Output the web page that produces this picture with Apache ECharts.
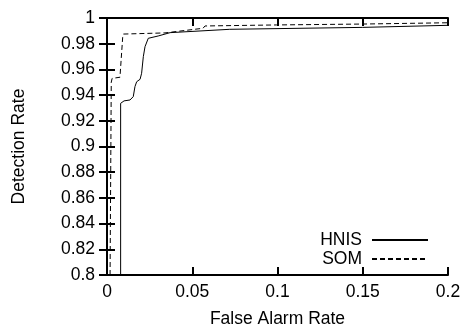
<!DOCTYPE html>
<html>
<head>
<meta charset="utf-8">
<script src="https://cdn.jsdelivr.net/npm/echarts@6/dist/echarts.min.js"></script>
<style>
  html, body { margin: 0; padding: 0; background: #fff; }
  #chart { width: 465px; height: 329px; }
</style>
</head>
<body>
<div id="chart"></div>
<script>
// HNIS curve (solid)
var hnisX = [0.0080, 0.0080, 0.0100, 0.0135, 0.0154, 0.0164, 0.0174, 0.0194, 0.0203, 0.0213, 0.0223, 0.0242, 0.0300, 0.0370, 0.0720, 0.1500, 0.2000];
var hnisY = [0.8000, 0.9336, 0.9355, 0.9362, 0.9388, 0.9466, 0.9504, 0.9523, 0.9570, 0.9699, 0.9777, 0.9842, 0.9860, 0.9886, 0.9912, 0.9927, 0.9943];
// SOM curve (dashed)
var somX = [0.0018, 0.0025, 0.0030, 0.0076, 0.0085, 0.0092, 0.0096, 0.0340, 0.0563, 0.0575, 0.0995, 0.1000, 0.1500, 0.1510, 0.2000];
var somY = [0.8000, 0.9500, 0.9530, 0.9539, 0.9540, 0.9850, 0.9875, 0.9884, 0.9920, 0.9938, 0.9946, 0.9953, 0.9953, 0.9963, 0.9963];

var xTicks = { min: 0, max: 0.2, interval: 0.05 };
var yTicks = { min: 0.8, max: 1, interval: 0.02 };

function pairs(xs, ys) {
    return xs.map(function (x, i) { return [x, ys[i]]; });
}

var font = 'Liberation Sans';
var fsize = 17.5;
var frame = { show: true, lineStyle: { color: '#000', width: 2 } };
var ticks = { show: true, inside: true, length: 8, lineStyle: { color: '#000', width: 2 } };
var fmt = function (v) { return String(+v.toFixed(3)); };

// one legend box per entry, so the rows can sit closer than the text height
function legendRow(name, top) {
    return {
        data: [name],
        orient: 'vertical',
        align: 'right',
        right: 31,
        top: top,
        itemWidth: 56,
        itemHeight: 14,
        itemStyle: { opacity: 0 },
        textStyle: { fontFamily: font, fontSize: fsize, color: '#000', padding: [0, 5, 0, 0] }
    };
}

var chart = echarts.init(document.getElementById('chart'));
chart.setOption({
    animation: false,
    grid: { left: 107, right: 17, top: 18, bottom: 54, outerBoundsMode: 'none', containLabel: false },
    legend: [legendRow('HNIS', 226), legendRow('SOM', 245)],
    xAxis: [
        {
            type: 'value', position: 'bottom',
            min: xTicks.min, max: xTicks.max, interval: xTicks.interval,
            name: 'False Alarm Rate', nameLocation: 'middle', nameGap: 35,
            nameTextStyle: { fontFamily: font, fontSize: fsize, color: '#000' },
            axisLine: frame, axisTick: ticks, splitLine: { show: false },
            axisLabel: { fontFamily: font, fontSize: fsize, color: '#000', margin: 8, formatter: fmt }
        },
        {
            type: 'value', position: 'top',
            min: xTicks.min, max: xTicks.max, interval: xTicks.interval,
            axisLine: frame, axisTick: ticks, splitLine: { show: false },
            axisLabel: { show: false }
        }
    ],
    yAxis: [
        {
            type: 'value', position: 'left',
            min: yTicks.min, max: yTicks.max, interval: yTicks.interval,
            name: 'Detection Rate', nameLocation: 'middle', nameGap: 79,
            nameTextStyle: { fontFamily: font, fontSize: fsize, color: '#000' },
            axisLine: frame, axisTick: ticks, splitLine: { show: false },
            axisLabel: { fontFamily: font, fontSize: fsize, color: '#000', margin: 12, formatter: fmt }
        },
        {
            type: 'value', position: 'right',
            min: yTicks.min, max: yTicks.max, interval: yTicks.interval,
            axisLine: frame, axisTick: ticks, splitLine: { show: false },
            axisLabel: { show: false }
        }
    ],
    series: [
        {
            name: 'HNIS', type: 'line', symbol: 'none',
            xAxisIndex: 0, yAxisIndex: 0,
            data: pairs(hnisX, hnisY),
            lineStyle: { color: '#000', width: 1, type: 'solid' },
            itemStyle: { color: '#000' }
        },
        {
            name: 'SOM', type: 'line', symbol: 'none',
            xAxisIndex: 0, yAxisIndex: 0,
            data: pairs(somX, somY),
            lineStyle: { color: '#000', width: 1, type: [5, 3] },
            itemStyle: { color: '#000' }
        }
    ]
});
</script>
</body>
</html>
